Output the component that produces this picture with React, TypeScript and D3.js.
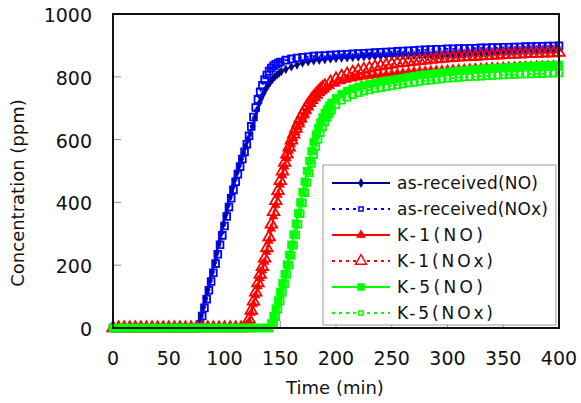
import React, { useEffect, useRef } from 'react';
import * as d3 from 'd3';

type Pt = [number, number];

const xTicks = [0, 50, 100, 150, 200, 250, 300, 350, 400];
const yTicks = [0, 200, 400, 600, 800, 1000];

// [time (min), concentration (ppm)]
const asReceivedNO: Pt[] = [
  [0, 0], [5, 0], [10, 0], [15, 0], [20, 0], [25, 0], [30, 0], [35, 0], [40, 0], [45, 0], [50, 0], [55, 0], [60, 0], [65, 0], [70, 0], [75, 0],
  [77, 10], [79, 38], [81, 66], [83, 94], [85, 122], [87, 150], [89, 179], [91, 208], [93, 238], [95, 270], [97, 302], [99, 331], [101, 360],
  [103, 390], [105, 418], [107, 446], [109, 471], [111, 494], [113, 516], [115, 538], [117, 558], [119, 579], [121, 600], [123, 620], [125, 642],
  [127, 668], [129, 693], [131, 715], [133, 732], [135, 747], [137, 761], [139, 773], [141, 783], [143, 792], [145, 800], [147, 806], [149, 812], [151, 817],
  [155, 824], [160, 832], [165, 838], [170, 844], [175, 848], [180, 851], [185, 853], [190, 855], [195, 857], [200, 859], [205, 860], [210, 861],
  [215, 862], [220, 863], [225, 864], [230, 865], [235, 865], [240, 866], [245, 866], [250, 867], [255, 867], [260, 868], [265, 868], [270, 868],
  [275, 869], [280, 869], [285, 869], [290, 870], [295, 870], [300, 871], [305, 872], [310, 873], [315, 874], [320, 875], [325, 876], [330, 877],
  [335, 878], [340, 879], [345, 880], [350, 881], [355, 882], [360, 883], [365, 884], [370, 885], [375, 886], [380, 886], [385, 887], [390, 887],
  [395, 888], [400, 888],
];

const asReceivedNOx: Pt[] = [
  [0, 0], [5, 0], [10, 0], [15, 0], [20, 0], [25, 0], [30, 0], [35, 0], [40, 0], [45, 0], [50, 0], [55, 0], [60, 0], [65, 0], [70, 0], [75, 0],
  [78, 12], [80, 38], [82, 64], [84, 92], [86, 120], [88, 148], [90, 176], [92, 205], [94, 235], [96, 265], [98, 295], [100, 325], [102, 355],
  [104, 385], [106, 413], [108, 440], [110, 466], [112, 490], [114, 514], [116, 538], [118, 561], [120, 585], [122, 612], [124, 642], [126, 672],
  [128, 702], [130, 728], [132, 752], [134, 773], [136, 791], [138, 806], [140, 818], [142, 828], [144, 835], [146, 840], [148, 844], [150, 847],
  [155, 853], [160, 857], [165, 860], [170, 862], [175, 864], [180, 866], [185, 867], [190, 868], [195, 869], [200, 870], [205, 871], [210, 872],
  [215, 873], [220, 874], [225, 875], [230, 876], [235, 877], [240, 878], [245, 879], [250, 880], [255, 881], [260, 882], [265, 883], [270, 884],
  [275, 885], [280, 886], [285, 887], [290, 888], [295, 888], [300, 889], [305, 889], [310, 890], [315, 890], [320, 891], [325, 891], [330, 892],
  [335, 892], [340, 893], [345, 893], [350, 894], [355, 894], [360, 895], [365, 895], [370, 896], [375, 896], [380, 897], [385, 897], [390, 898],
  [395, 898], [400, 899],
];

const k1NO: Pt[] = [
  [0, 0], [5, 0], [10, 0], [15, 0], [20, 0], [25, 0], [30, 0], [35, 0], [40, 0], [45, 0], [50, 0], [55, 0], [60, 0], [65, 0], [70, 0], [75, 0],
  [80, 0], [85, 0], [90, 0], [95, 0], [100, 0], [105, 0], [110, 0], [115, 0], [120, 0],
  [122, 20], [124, 48], [126, 76], [128, 104], [130, 132], [132, 158], [134, 183], [136, 210], [138, 242], [140, 277], [142, 316], [144, 355],
  [146, 391], [148, 424], [150, 456], [152, 486], [154, 514], [156, 540], [158, 563], [160, 585], [162, 604], [164, 622], [166, 639], [168, 655],
  [170, 669], [172, 682], [174, 694], [176, 705], [178, 715], [180, 724], [182, 732], [184, 740], [186, 747], [188, 753], [190, 759],
  [195, 770], [200, 778], [205, 785], [210, 790], [215, 794], [220, 797], [225, 800], [230, 802], [235, 804], [240, 806], [245, 808], [250, 810],
  [255, 812], [260, 814], [265, 816], [270, 818], [275, 819], [280, 820], [285, 821], [290, 822], [295, 823], [300, 824], [305, 825], [310, 826],
  [315, 827], [320, 828], [325, 829], [330, 830], [335, 831], [340, 832], [345, 832], [350, 833], [355, 834], [360, 834], [365, 835], [370, 836],
  [375, 836], [380, 837], [385, 837], [390, 838], [395, 838], [400, 839],
];

const k1NOx: Pt[] = [
  [0, 0], [5, 0], [10, 0], [15, 0], [20, 0], [25, 0], [30, 0], [35, 0], [40, 0], [45, 0], [50, 0], [55, 0], [60, 0], [65, 0],
  [70, 0], [75, 0], [80, 0], [85, 0], [90, 0], [95, 0], [100, 0], [105, 0], [110, 0], [115, 0], [120, 0],
  [122, 28], [124, 56], [126, 85], [128, 114], [130, 143], [132, 170], [134, 195], [136, 222], [138, 255], [140, 290], [142, 330], [144, 370],
  [146, 405], [148, 437], [150, 469], [152, 499], [154, 527], [156, 553], [158, 576], [160, 598], [162, 617], [164, 635], [166, 652], [168, 667],
  [170, 681], [172, 694], [174, 706], [176, 717], [178, 727], [180, 736], [182, 744], [184, 752], [186, 759], [188, 765], [190, 771],
  [195, 783], [200, 793], [205, 801], [210, 808], [215, 814], [220, 819], [225, 823], [230, 827], [235, 831], [240, 834], [245, 837], [250, 840],
  [255, 843], [260, 845], [265, 847], [270, 849], [275, 851], [280, 853], [285, 855], [290, 857], [295, 858], [300, 860], [305, 861], [310, 862],
  [315, 863], [320, 864], [325, 865], [330, 866], [335, 867], [340, 868], [345, 869], [350, 870], [355, 871], [360, 872], [365, 872], [370, 873],
  [375, 874], [380, 874], [385, 875], [390, 876], [395, 876], [400, 877],
];

const k5NO: Pt[] = [
  [0, 0], [5, 0], [10, 0], [15, 0], [20, 0], [25, 0], [30, 0], [35, 0], [40, 0], [45, 0], [50, 0], [55, 0], [60, 0], [65, 0], [70, 0], [75, 0],
  [80, 0], [85, 0], [90, 0], [95, 0], [100, 0], [105, 0], [110, 0], [115, 0], [120, 0], [125, 0], [130, 0], [135, 0], [140, 0],
  [142, 15], [144, 38], [146, 62], [148, 88], [150, 115], [152, 143], [154, 172], [156, 202], [158, 233], [160, 265], [162, 298], [164, 332],
  [166, 366], [168, 400], [170, 433], [172, 466], [174, 500], [176, 532], [178, 563], [180, 592], [182, 616], [184, 637], [186, 655], [188, 671],
  [190, 685], [192, 697], [194, 708], [196, 717],
  [200, 732], [205, 745], [210, 755], [215, 762], [220, 768], [225, 773], [230, 777], [235, 780], [240, 784], [245, 787], [250, 790], [255, 793],
  [260, 796], [265, 799], [270, 802], [275, 805], [280, 807], [285, 809], [290, 811], [295, 813], [300, 815], [305, 817], [310, 819], [315, 820],
  [320, 822], [325, 823], [330, 825], [335, 826], [340, 827], [345, 828], [350, 829], [355, 830], [360, 831], [365, 832], [370, 833], [375, 834],
  [380, 835], [385, 836], [390, 837], [395, 837], [400, 838],
];

const k5NOx: Pt[] = [
  [0, 0], [5, 0], [10, 0], [15, 0], [20, 0], [25, 0], [30, 0], [35, 0], [40, 0], [45, 0], [50, 0], [55, 0], [60, 0], [65, 0], [70, 0], [75, 0],
  [80, 0], [85, 0], [90, 0], [95, 0], [100, 0], [105, 0], [110, 0], [115, 0], [120, 0], [125, 0], [130, 0], [135, 0], [140, 0],
  [144, 12], [146, 36], [148, 60], [150, 86], [152, 113], [154, 141], [156, 170], [158, 200], [160, 231], [162, 263], [164, 296], [166, 330],
  [168, 364], [170, 398], [172, 431], [174, 463], [176, 494], [178, 524], [180, 552], [182, 578], [184, 601], [186, 622], [188, 640], [190, 656],
  [192, 670], [194, 682], [196, 693],
  [200, 711], [205, 725], [210, 735], [215, 743], [220, 749], [225, 754], [230, 758], [235, 762], [240, 765], [245, 768], [250, 771], [255, 774],
  [260, 777], [265, 780], [270, 782], [275, 785], [280, 787], [285, 789], [290, 791], [295, 793], [300, 795], [305, 796], [310, 798], [315, 799],
  [320, 800], [325, 801], [330, 802], [335, 803], [340, 804], [345, 805], [350, 806], [355, 807], [360, 807], [365, 808], [370, 809], [375, 809],
  [380, 810], [385, 810], [390, 811], [395, 811], [400, 812],
];

const seriesNames = ['as-received(NO)', 'as-received(NOx)', 'K-1(NO)', 'K-1(NOx)', 'K-5(NO)', 'K-5(NOx)'];

// line + marker style per series (same order as seriesNames)
const styles = [
  { data: asReceivedNO, color: '#000080', markColor: '#000080', dash: null, shape: d3.symbolDiamond, size: 22, legSize: 24, filled: true, sw: 0.5 },
  { data: asReceivedNOx, color: '#0000ff', markColor: '#0000ff', dash: '3,4', shape: d3.symbolSquare, size: 46, legSize: 18, filled: false, sw: 1.8 },
  { data: k1NO, color: '#ff0000', markColor: '#ff0000', dash: null, shape: d3.symbolTriangle, size: 34, legSize: 36, filled: true, sw: 0.5 },
  { data: k1NOx, color: '#ff0000', markColor: '#ff0000', dash: '3,4', shape: d3.symbolTriangle, size: 58, legSize: 52, filled: false, sw: 1.8 },
  { data: k5NO, color: '#00ff00', markColor: '#00ff00', dash: null, shape: d3.symbolSquare, size: 62, legSize: 50, filled: true, sw: 0.5 },
  { data: k5NOx, color: '#00ff00', markColor: '#00ff00', dash: '3,4', shape: d3.symbolSquare, size: 44, legSize: 18, filled: false, sw: 1.8 },
];

export default function App() {
  const svgRef = useRef<SVGSVGElement>(null);

  useEffect(() => {
    const svg = d3.select(svgRef.current);
    svg.selectAll('*').remove();

    const W = 581;
    const H = 403;
    const left = 113, right = 559, top = 14, bottom = 328;
    const font = 'DejaVu Sans, sans-serif';

    svg.attr('width', W).attr('height', H);
    svg.append('rect').attr('width', W).attr('height', H).attr('fill', '#fff');

    const x = d3.scaleLinear().domain([0, 400]).range([left, right]);
    const y = d3.scaleLinear().domain([0, 1000]).range([bottom, top]);

    // inward gray ticks
    const ticks = svg.append('g');
    yTicks.forEach((t) => {
      ticks.append('line')
        .attr('x1', left).attr('x2', left + 8)
        .attr('y1', y(t)).attr('y2', y(t))
        .attr('stroke', '#909090').attr('stroke-width', 1);
    });
    xTicks.forEach((t) => {
      ticks.append('line')
        .attr('x1', x(t)).attr('x2', x(t))
        .attr('y1', bottom).attr('y2', bottom - 7)
        .attr('stroke', '#909090').attr('stroke-width', 1);
    });

    // series
    const line = d3.line<Pt>().x((d) => x(d[0])).y((d) => y(d[1]));
    styles.forEach((s) => {
      const g = svg.append('g');
      g.append('path')
        .attr('d', line(s.data))
        .attr('fill', 'none')
        .attr('stroke', s.color)
        .attr('stroke-width', 1.8)
        .attr('stroke-dasharray', s.dash);
      const sym = d3.symbol().type(s.shape).size(s.size);
      g.selectAll('path.m')
        .data(s.data)
        .enter()
        .append('path')
        .attr('class', 'm')
        .attr('d', sym)
        .attr('transform', (d) => `translate(${x(d[0])},${y(d[1])})`)
        .attr('fill', s.filled ? s.markColor : 'none')
        .attr('stroke', s.markColor)
        .attr('stroke-width', s.sw);
    });

    // frame
    svg.append('rect')
      .attr('x', left).attr('y', top)
      .attr('width', right - left).attr('height', bottom - top)
      .attr('fill', 'none').attr('stroke', '#111').attr('stroke-width', 2);

    // legend
    const lg = svg.append('g');
    lg.append('rect')
      .attr('x', 323).attr('y', 165).attr('width', 233).attr('height', 160)
      .attr('fill', '#fff').attr('stroke', '#999').attr('stroke-width', 1);
    const textLens = [141, 151, 86, 96, 86, 96];
    styles.forEach((s, i) => {
      const ly = 183 + i * 26;
      lg.append('line')
        .attr('x1', 332).attr('x2', 390).attr('y1', ly).attr('y2', ly)
        .attr('stroke', s.color).attr('stroke-width', 1.8)
        .attr('stroke-dasharray', s.dash);
      lg.append('path')
        .attr('d', d3.symbol().type(s.shape).size(s.legSize)())
        .attr('transform', `translate(361,${ly})`)
        .attr('fill', s.filled ? s.markColor : '#fff')
        .attr('stroke', s.markColor)
        .attr('stroke-width', s.filled ? 0.5 : 1.5);
      lg.append('text')
        .attr('x', 397).attr('y', ly + 6)
        .attr('font-family', font).attr('font-size', 17)
        .attr('textLength', textLens[i]).attr('lengthAdjust', 'spacing')
        .attr('fill', '#111')
        .text(seriesNames[i]);
    });

    // tick labels
    yTicks.forEach((t) => {
      svg.append('text')
        .attr('x', 92).attr('y', y(t) + 8)
        .attr('text-anchor', 'end')
        .attr('font-family', font).attr('font-size', 19)
        .attr('fill', '#111')
        .text(t);
    });
    xTicks.forEach((t) => {
      svg.append('text')
        .attr('x', x(t)).attr('y', 365)
        .attr('text-anchor', 'middle')
        .attr('font-family', font).attr('font-size', 19)
        .attr('fill', '#111')
        .text(t);
    });

    // axis titles
    svg.append('text')
      .attr('x', 335).attr('y', 394)
      .attr('text-anchor', 'middle')
      .attr('font-family', font).attr('font-size', 18)
      .attr('fill', '#111')
      .text('Time (min)');
    svg.append('text')
      .attr('transform', 'translate(24,193) rotate(-90)')
      .attr('text-anchor', 'middle')
      .attr('font-family', font).attr('font-size', 18)
      .attr('fill', '#111')
      .text('Concentration (ppm)');
  }, []);

  return <svg ref={svgRef} style={{ position: 'absolute', left: 0, top: 0 }} />;
}
